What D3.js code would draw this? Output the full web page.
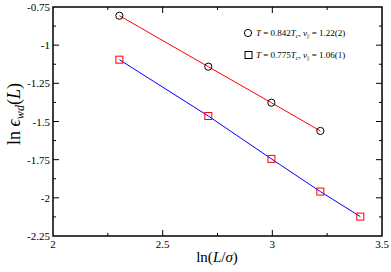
<!DOCTYPE html>
<html>
<head>
<meta charset="utf-8">
<script src="https://cdn.jsdelivr.net/npm/d3@7"></script>
<style>
  body { margin: 0; background: #fff; }
  svg { display: block; font-family: "Liberation Serif", "DejaVu Serif", serif; }
</style>
</head>
<body>
<svg id="chart"></svg>
<script>
// data
const lnL842 = [2.3026, 2.7081, 2.9957, 3.2189];
const eps842 = [-0.807, -1.141, -1.377, -1.562];
const lnL775 = [2.3026, 2.7081, 2.9957, 3.2189, 3.4012];
const eps775 = [-1.095, -1.464, -1.745, -1.959, -2.123];
const xTicks = [2, 2.5, 3, 3.5];
const xTickLabels = ['2', '2.5', '3', '3.5'];
const yTicks = [-2.25, -2, -1.75, -1.5, -1.25, -1, -0.75];
const yTickLabels = ['-2.25', '-2', '-1.75', '-1.5', '-1.25', '-1', '-0.75'];

const width = 391, height = 272;
const margin = { top: 7, right: 9, bottom: 36, left: 53 };
const innerW = width - margin.left - margin.right;
const innerH = height - margin.top - margin.bottom;

const svg = d3.select('#chart').attr('width', width).attr('height', height);
const g = svg.append('g').attr('transform', `translate(${margin.left},${margin.top})`);

const x = d3.scaleLinear().domain([2, 3.5]).range([0, innerW]);
const y = d3.scaleLinear().domain([-2.25, -0.75]).range([innerH, 0]);

// minor ticks halfway between majors
const xMinor = d3.range(2.25, 3.5, 0.5);
const yMinor = d3.range(-2.125, -0.75, 0.25);

// inward ticks on all four sides
function ticks(axisG, vals, len, side) {
  vals.forEach(v => {
    if (side === 'bottom') axisG.append('line').attr('x1', x(v)).attr('x2', x(v)).attr('y1', innerH).attr('y2', innerH - len);
    if (side === 'top') axisG.append('line').attr('x1', x(v)).attr('x2', x(v)).attr('y1', 0).attr('y2', len);
    if (side === 'left') axisG.append('line').attr('y1', y(v)).attr('y2', y(v)).attr('x1', 0).attr('x2', len);
    if (side === 'right') axisG.append('line').attr('y1', y(v)).attr('y2', y(v)).attr('x1', innerW).attr('x2', innerW - len);
  });
}
const tickG = g.append('g').attr('stroke', '#000').attr('stroke-width', 1);
['bottom', 'top'].forEach(s => { ticks(tickG, xTicks.slice(1, -1), 6, s); ticks(tickG, xMinor, 3, s); });
['left', 'right'].forEach(s => { ticks(tickG, yTicks.slice(1, -1), 6, s); ticks(tickG, yMinor, 3, s); });

// tick labels
g.append('g').selectAll('text').data(xTicks).join('text')
  .attr('x', d => x(d)).attr('y', innerH + 12)
  .attr('text-anchor', 'middle').attr('font-size', 11)
  .text((d, i) => xTickLabels[i]);
g.append('g').selectAll('text').data(yTicks).join('text')
  .attr('x', -3).attr('y', d => y(d) + 4)
  .attr('text-anchor', 'end').attr('font-size', 11)
  .text((d, i) => yTickLabels[i]);

// lines
const line = d3.line().x(d => x(d[0])).y(d => y(d[1]));
const s842 = lnL842.map((v, i) => [v, eps842[i]]);
const s775 = lnL775.map((v, i) => [v, eps775[i]]);
g.append('path').datum(s842).attr('d', line).attr('fill', 'none').attr('stroke', '#ff0000').attr('stroke-width', 1);
g.append('path').datum(s775).attr('d', line).attr('fill', 'none').attr('stroke', '#0000ff').attr('stroke-width', 1);

// markers
g.append('g').selectAll('circle').data(s842).join('circle')
  .attr('cx', d => x(d[0])).attr('cy', d => y(d[1])).attr('r', 3.6)
  .attr('fill', 'none').attr('stroke', '#000').attr('stroke-width', 1);
g.append('g').selectAll('rect').data(s775).join('rect')
  .attr('x', d => x(d[0]) - 3.5).attr('y', d => y(d[1]) - 3.5)
  .attr('width', 7).attr('height', 7)
  .attr('fill', 'none').attr('stroke', '#ff0000').attr('stroke-width', 1);

// frame
g.append('rect').attr('width', innerW).attr('height', innerH)
  .attr('fill', 'none').attr('stroke', '#000').attr('stroke-width', 1.5);

// legend
const leg = svg.append('g').attr('font-size', 9);
leg.append('circle').attr('cx', 248).attr('cy', 33).attr('r', 3.6)
  .attr('fill', 'none').attr('stroke', '#000').attr('stroke-width', 1);
leg.append('rect').attr('x', 245).attr('y', 51.5).attr('width', 7).attr('height', 7)
  .attr('fill', 'none').attr('stroke', '#000').attr('stroke-width', 1);
function legText(ty, temp, nu, subBar) {
  const t = leg.append('text').attr('x', 256).attr('y', ty);
  t.append('tspan').attr('font-style', 'italic').text('T');
  t.append('tspan').text(` = ${temp}`);
  t.append('tspan').attr('font-style', 'italic').text('T');
  t.append('tspan').attr('font-style', 'italic').attr('font-size', 6).attr('dy', 2).text('c');
  t.append('tspan').attr('dy', -2).text(',  ');
  t.append('tspan').attr('font-style', 'italic').text('ν');
  t.append('tspan').attr('font-size', 6).attr('dy', 2).text(subBar);
  t.append('tspan').attr('dy', -2).text(` = ${nu}`);
}
legText(36, '0.842', '1.22(2)', '||');
legText(58, '0.775', '1.06(1)', '||');

// axis titles
const xl = svg.append('text').attr('x', 217).attr('y', 262)
  .attr('text-anchor', 'middle').attr('font-size', 15);
xl.append('tspan').text('ln(');
xl.append('tspan').attr('font-style', 'italic').text('L');
xl.append('tspan').text('/');
xl.append('tspan').attr('font-style', 'italic').text('σ');
xl.append('tspan').text(')');

const yl = svg.append('text')
  .attr('transform', 'translate(20,114) rotate(-90)')
  .attr('text-anchor', 'middle').attr('font-size', 18);
yl.append('tspan').text('ln ');
yl.append('tspan').attr('font-style', 'italic').text('ϵ');
yl.append('tspan').attr('font-style', 'italic').attr('font-size', 12).attr('dy', 4).text('wd');
yl.append('tspan').attr('dy', -4).text('(');
yl.append('tspan').attr('font-style', 'italic').text('L');
yl.append('tspan').text(')');
</script>
</body>
</html>
